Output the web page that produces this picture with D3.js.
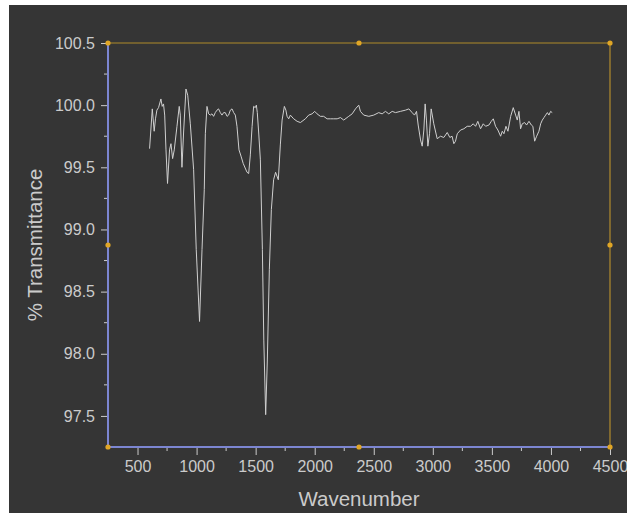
<!DOCTYPE html>
<html>
<head>
<meta charset="utf-8">
<script src="https://cdn.jsdelivr.net/npm/d3@7"></script>
<style>
  body { margin: 0; background: #fff; }
  text { font-family: 'Liberation Sans', Arial, sans-serif; fill: #cbcbcb; }
</style>
</head>
<body>
<div id="chart"></div>
<script>
// wavenumber (cm-1) and % transmittance
const wavenumber = [
  602, 625, 641, 652, 664, 678, 698, 709, 720, 730, 741, 754, 771, 783, 797, 811, 834, 853, 862, 876,
  891, 910, 925, 947, 975, 997, 1025, 1046, 1065, 1074, 1088, 1102, 1116, 1130, 1144, 1158, 1173, 1186,
  1201, 1215, 1229, 1243, 1258, 1271, 1286, 1300, 1314, 1328, 1342, 1359, 1376, 1395, 1427, 1441, 1455,
  1470, 1483, 1497, 1506, 1514, 1527, 1540, 1557, 1569, 1585, 1599, 1616, 1633, 1652, 1669, 1680, 1692,
  1709, 1724, 1743, 1756, 1766, 1780, 1794, 1822, 1851, 1879, 1921, 1949, 1978, 2000, 2020, 2048, 2076,
  2105, 2133, 2161, 2190, 2218, 2246, 2288, 2317, 2345, 2373, 2387, 2415, 2458, 2500, 2542, 2571, 2599,
  2627, 2656, 2684, 2726, 2769, 2797, 2825, 2845, 2862, 2876, 2896, 2910, 2924, 2935, 2946, 2958, 2972,
  2986, 3008, 3037, 3065, 3093, 3122, 3144, 3163, 3178, 3192, 3207, 3235, 3263, 3291, 3319, 3342, 3362,
  3381, 3404, 3427, 3447, 3475, 3495, 3512, 3531, 3551, 3574, 3588, 3602, 3619, 3636, 3659, 3681, 3701,
  3715, 3729, 3743, 3757, 3777, 3794, 3814, 3834, 3847, 3862, 3879, 3898, 3913, 3927, 3941, 3955, 3970,
  3983, 3997, 4011
]
const transmittance = [
  99.65, 99.97, 99.79, 99.89, 99.96, 99.98, 100.05, 99.99, 100.01, 99.92, 99.64, 99.37, 99.64, 99.69, 99.57, 99.64, 99.83, 99.99, 99.92, 99.50,
  99.80, 100.13, 100.08, 99.85, 99.48, 98.84, 98.26, 98.84, 99.32, 99.77, 99.99, 99.93, 99.92, 99.93, 99.91, 99.94, 99.96, 99.97,
  99.94, 99.92, 99.94, 99.94, 99.91, 99.92, 99.96, 99.97, 99.94, 99.92, 99.83, 99.64, 99.59, 99.53, 99.46, 99.45, 99.60,
  99.83, 99.99, 99.98, 100.00, 99.94, 99.76, 99.56, 98.84, 98.11, 97.51, 97.95, 98.68, 99.16, 99.40, 99.46, 99.43, 99.40,
  99.68, 99.88, 99.99, 99.96, 99.91, 99.89, 99.92, 99.89, 99.87, 99.86, 99.89, 99.92, 99.93, 99.95, 99.93, 99.91, 99.91,
  99.89, 99.89, 99.89, 99.89, 99.90, 99.88, 99.91, 99.93, 99.97, 100.00, 99.95, 99.92, 99.91, 99.92, 99.94, 99.93, 99.95,
  99.93, 99.95, 99.94, 99.95, 99.96, 99.97, 99.94, 99.92, 99.95, 99.84, 99.72, 99.67, 99.80, 100.01, 99.88, 99.67, 99.77,
  99.97, 99.85, 99.73, 99.75, 99.74, 99.78, 99.74, 99.75, 99.69, 99.71, 99.77, 99.80, 99.81, 99.83, 99.83, 99.85, 99.83,
  99.87, 99.81, 99.85, 99.83, 99.84, 99.87, 99.89, 99.83, 99.80, 99.75, 99.79, 99.77, 99.83, 99.79, 99.91, 99.98, 99.92,
  99.88, 99.95, 99.81, 99.85, 99.86, 99.84, 99.87, 99.84, 99.83, 99.71, 99.75, 99.79, 99.85, 99.88, 99.90, 99.92, 99.94,
  99.92, 99.95, 99.94
]
const xTicks = [500, 1000, 1500, 2000, 2500, 3000, 3500, 4000, 4500]
const yTicks = [97.5, 98.0, 98.5, 99.0, 99.5, 100.0, 100.5]
const xMinor = [750, 1250, 1750, 2250, 2750, 3250, 3750, 4250]
const yMinor = [97.75, 98.25, 98.75, 99.25, 99.75, 100.25]

const width = 627
const height = 515
const margin = { top: 43, right: 17, bottom: 68, left: 108 }
const plotW = width - margin.left - margin.right
const plotH = height - margin.top - margin.bottom

const x = d3.scaleLinear().domain([250, 4500]).range([0, plotW])
const y = d3.scaleLinear().domain([97.25, 100.5]).range([plotH, 0])

const svg = d3.select('#chart').append('svg').attr('width', width).attr('height', height)

svg.append('rect').attr('x', 9).attr('y', 5).attr('width', width - 9).attr('height', 508).attr('fill', '#353535')

const g = svg.append('g').attr('transform', `translate(${margin.left},${margin.top})`)

// minor ticks
g.selectAll('.xminor').data(xMinor).enter().append('line')
  .attr('x1', d => x(d)).attr('x2', d => x(d)).attr('y1', plotH).attr('y2', plotH + 4)
  .attr('stroke', '#cbcbcb')
g.selectAll('.yminor').data(yMinor).enter().append('line')
  .attr('x1', -4).attr('x2', 0).attr('y1', d => y(d)).attr('y2', d => y(d))
  .attr('stroke', '#cbcbcb')

const xAxis = g.append('g').attr('transform', `translate(0,${plotH})`)
  .call(d3.axisBottom(x).tickValues(xTicks).tickSize(8).tickPadding(6).tickFormat(d3.format('d')))
const yAxis = g.append('g')
  .call(d3.axisLeft(y).tickValues(yTicks).tickSize(7).tickPadding(6).tickFormat(d3.format('.1f')))

for (const ax of [xAxis, yAxis]) {
  ax.select('.domain').remove()
  ax.selectAll('line').attr('stroke', '#cbcbcb')
  ax.selectAll('text').attr('fill', '#cbcbcb').style('font-size', '16px').style('font-family', "'Liberation Sans', Arial, sans-serif")
}

// frame: blue axes, gold top/right
g.append('line').attr('x1', 0).attr('x2', plotW).attr('y1', 0).attr('y2', 0).attr('stroke', '#72602f').attr('stroke-width', 2)
g.append('line').attr('x1', plotW).attr('x2', plotW).attr('y1', 0).attr('y2', plotH).attr('stroke', '#a9862e').attr('stroke-width', 1.3)
g.append('line').attr('x1', 0).attr('x2', plotW).attr('y1', plotH).attr('y2', plotH).attr('stroke', '#7c86d2').attr('stroke-width', 2)
g.append('line').attr('x1', 0).attr('x2', 0).attr('y1', 0).attr('y2', plotH).attr('stroke', '#7c86d2').attr('stroke-width', 2)

// spectrum
const points = wavenumber.map((w, i) => [w, transmittance[i]])
g.append('path')
  .datum(points)
  .attr('fill', 'none')
  .attr('stroke', '#cfcfcf')
  .attr('stroke-width', 1)
  .attr('stroke-linejoin', 'round')
  .attr('d', d3.line().x(d => x(d[0])).y(d => y(d[1])))

// selection handles on the frame
const handles = [[0, 0], [0.5, 0], [1, 0], [0, 0.5], [1, 0.5], [0, 1], [0.5, 1], [1, 1]]
g.selectAll('.handle').data(handles).enter().append('circle')
  .attr('cx', d => d[0] * plotW).attr('cy', d => d[1] * plotH).attr('r', 2.6)
  .attr('fill', '#e0a626')

svg.append('text')
  .attr('x', margin.left + plotW / 2).attr('y', 506)
  .attr('text-anchor', 'middle').style('font-size', '20.5px')
  .text('Wavenumber')

svg.append('text')
  .attr('transform', `translate(42,${margin.top + plotH / 2}) rotate(-90)`)
  .attr('text-anchor', 'middle').style('font-size', '20.5px')
  .text('% Transmittance')
</script>
</body>
</html>
